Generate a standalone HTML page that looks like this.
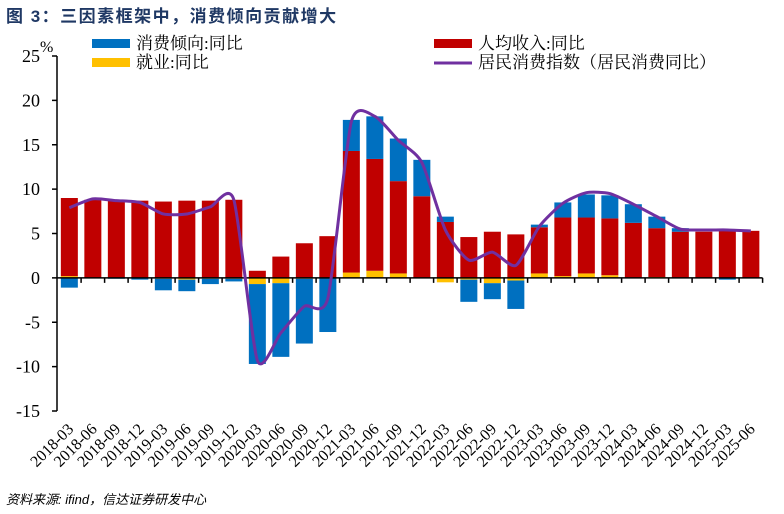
<!DOCTYPE html>
<html><head><meta charset="utf-8"><style>
body{margin:0;background:#fff;width:784px;height:514px;overflow:hidden}
svg{display:block}
</style></head><body>
<svg id="chart" width="784" height="514" xmlns="http://www.w3.org/2000/svg">
<text x="6" y="22" font-family="'Liberation Sans','Noto Sans CJK SC',sans-serif" font-size="17" font-weight="bold" fill="#1f3864" letter-spacing="1.5">图 3：三因素框架中，消费倾向贡献增大</text>
<g font-family="'Liberation Serif','Noto Serif CJK SC',serif" font-size="17" fill="#000">
<g><rect x="92" y="39" width="38" height="9" fill="#0070c0"/><text x="136" y="49">消费倾向:同比</text></g>
<g><rect x="92" y="58" width="38" height="9" fill="#ffc000"/><text x="136" y="68">就业:同比</text></g>
<g><rect x="434" y="39" width="38" height="9" fill="#c00000"/><text x="478" y="49">人均收入:同比</text></g>
<g><rect x="434" y="61.5" width="38" height="3" fill="#7030a0"/><text x="478" y="68">居民消费指数（居民消费同比）</text></g>
</g>
<text x="40" y="52" font-family="'Liberation Serif',serif" font-size="16">%</text>
<g id="plot"></g>
<text x="6" y="504" font-family="'Liberation Sans','Noto Sans CJK SC',sans-serif" font-size="13" font-style="italic" fill="#000">资料来源: ifind，信达证券研发中心</text>
</svg>
<script>
const categories=["2018-03","2018-06","2018-09","2018-12","2019-03","2019-06","2019-09","2019-12","2020-03","2020-06","2020-09","2020-12","2021-03","2021-06","2021-09","2021-12","2022-03","2022-06","2022-09","2022-12","2023-03","2023-06","2023-09","2023-12","2024-03","2024-06","2024-09","2024-12","2025-03","2025-06"];
const income=[8.8,8.8,8.7,8.7,8.6,8.7,8.7,8.8,0.8,2.4,3.9,4.7,13.7,12.6,10.4,9.2,6.3,4.6,5.2,4.9,5.2,6.6,6.3,6.4,6.2,5.5,5.2,5.2,5.5,5.3];
const employment=[0.2,0,0,0,-0.1,-0.2,-0.1,-0.1,-0.7,-0.6,-0.1,0,0.6,0.8,0.5,0,-0.5,-0.2,-0.6,-0.3,0.5,0.2,0.5,0.3,0,0.1,0,0,0,0];
const propensity=[-1.1,0,-0.1,-0.2,-1.3,-1.3,-0.6,-0.3,-9.0,-8.3,-7.3,-6.1,3.5,4.8,4.8,4.1,0.6,-2.5,-1.8,-3.2,0.3,1.7,2.6,2.6,2.1,1.3,0.4,0,-0.2,0];
const consIndex=[7.9,8.9,8.7,8.5,7.2,7.2,8.0,8.8,-9.3,-6.2,-3.2,-2.3,17.6,18.2,15.5,13.0,5.4,2.0,2.9,1.4,5.8,8.4,9.6,9.5,8.3,6.9,5.5,5.4,5.4,5.3];
const yTicks=[25,20,15,10,5,0,-5,-10,-15];

const NS="http://www.w3.org/2000/svg";
const plot=document.getElementById('plot');
const X0=57.6,CW=23.5,Y25=56,PPU=8.875;
const yS=v=>Y25+(25-v)*PPU;
const xC=i=>X0+CW*(i+0.5);
function mk(tag,attrs,parent){const e=document.createElementNS(NS,tag);for(const k in attrs)e.setAttribute(k,attrs[k]);(parent||plot).appendChild(e);return e;}
let ax=mk('line',{x1:57,y1:yS(25),x2:57,y2:yS(-15),stroke:'#000','stroke-width':1.5});


yTicks.forEach(t=>{
 let tk=mk('line',{x1:52,y1:yS(t),x2:57,y2:yS(t),stroke:'#000','stroke-width':1.5});
 
 
 let tx=mk('text',{x:40,y:yS(t)+6,'text-anchor':'end','font-family':"'Liberation Serif',serif",'font-size':18});
 tx.textContent=t;
 
 
});
const bw=17;
categories.forEach((c,i)=>{
 let pos=0,neg=0;
 [[employment,'#ffc000','bar-employment'],[income,'#c00000','bar-income'],[propensity,'#0070c0','bar-propensity']].forEach(([arr,col,nm])=>{
  const v=arr[i]; if(!v) return;
  let y1,y2;
  if(v>0){y1=yS(pos+v);y2=yS(pos);pos+=v;}else{y1=yS(neg);y2=yS(neg+v);neg+=v;}
  let r=mk('rect',{x:xC(i)-bw/2,y:y1,width:bw,height:Math.max(0.5,y2-y1),fill:col});
  
  
 });
});
let xa=mk('line',{x1:57,y1:yS(0),x2:X0+CW*categories.length,y2:yS(0),stroke:'#000','stroke-width':1.5});


categories.forEach((c,i)=>{
 let tk=mk('line',{x1:X0+CW*(i+1),y1:yS(0),x2:X0+CW*(i+1),y2:yS(0)+5,stroke:'#000','stroke-width':1.5});
 
 
 const lx=xC(i)+5,ly=430;
 let tx=mk('text',{x:lx,y:ly,'text-anchor':'end','font-family':"'Liberation Serif',serif",'font-size':16,transform:`rotate(-45 ${lx} ${ly})`});
 tx.textContent=c;
 
 
});
const pts=consIndex.map((v,i)=>[xC(i),yS(v)]);
let d=`M${pts[0][0]},${pts[0][1]}`;
for(let i=0;i<pts.length-1;i++){
 const p0=pts[Math.max(0,i-1)],p1=pts[i],p2=pts[i+1],p3=pts[Math.min(pts.length-1,i+2)];
 const t=9;
 d+=` C${p1[0]+(p2[0]-p0[0])/t},${p1[1]+(p2[1]-p0[1])/t} ${p2[0]-(p3[0]-p1[0])/t},${p2[1]-(p3[1]-p1[1])/t} ${p2[0]},${p2[1]}`;
}
let ln=mk('path',{d:d,fill:'none',stroke:'#7030a0','stroke-width':3});


</script>
</body></html>
